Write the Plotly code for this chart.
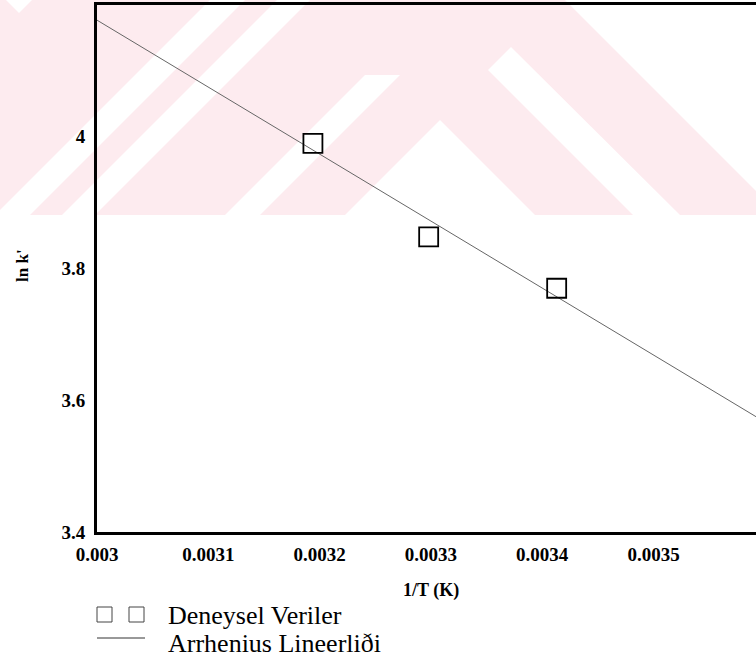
import plotly.graph_objects as go

# ---- data ----
inv_T = [0.003194, 0.003298, 0.003413]          # 1/T (K)
ln_k = [3.990, 3.848, 3.770]                      # ln k'
fit_x = [0.0030, 0.0036]                          # Arrhenius line ends
fit_y = [4.177, 3.567]
x_ticks = [0.003, 0.0031, 0.0032, 0.0033, 0.0034, 0.0035]
y_ticks = [3.4, 3.6, 3.8, 4.0]
x_tick_text = ["0.003", "0.0031", "0.0032", "0.0033", "0.0034", "0.0035"]
y_tick_text = ["3.4", "3.6", "3.8", "4"]
legend_labels = ["Deneysel Veriler", "Arrhenius Lineerliði"]

W, H = 756, 660
L, R, T, B = 97, 756, 5, 532   # plot area in pixels
SERIF = "Liberation Serif"


def px(x):
    return (x - L) / (R - L)


def py(y):
    return (B - y) / (B - T)


def poly(points, color):
    path = "M " + " L ".join(f"{px(a):.5f},{py(b):.5f}" for a, b in points) + " Z"
    return dict(type="path", xref="paper", yref="paper", path=path,
                fillcolor=color, line=dict(width=0), layer="below")


PINK = "rgb(253,235,239)"
WHITE = "white"
shapes = [
    poly([(0, 0), (756, 0), (756, 215), (0, 215)], PINK),
    poly([(6, 0), (32, 0), (19, 13)], WHITE),
    poly([(-5, 215), (30, 215), (245, 0), (210, 0)], WHITE),
    poly([(62, 215), (95, 215), (310, 0), (277, 0)], WHITE),
    poly([(225, 215), (260, 215), (400, 75), (365, 75)], WHITE),
    poly([(440, 120), (345, 215), (535, 215)], WHITE),
    poly([(488, 70), (511, 47), (680, 215), (633, 215)], WHITE),
    poly([(565, 0), (756, 0), (756, 191)], WHITE),
]

# legend (drawn manually)
shapes += [
    dict(type="rect", xref="paper", yref="paper", x0=px(97), x1=px(112), y0=py(622), y1=py(607),
         line=dict(color="#444", width=1)),
    dict(type="rect", xref="paper", yref="paper", x0=px(129), x1=px(144), y0=py(622), y1=py(607),
         line=dict(color="#444", width=1)),
    dict(type="line", xref="paper", yref="paper", x0=px(97), x1=px(145), y0=py(638), y1=py(638),
         line=dict(color="#333", width=1)),
]

fig = go.Figure()
fig.add_trace(go.Scatter(x=fit_x, y=fit_y, mode="lines",
                         line=dict(color="#666", width=1), name=legend_labels[1]))
fig.add_trace(go.Scatter(x=inv_T, y=ln_k, mode="markers",
                         marker=dict(symbol="square-open", size=19, color="black",
                                     line=dict(width=1.8)), name=legend_labels[0]))

annotations = [
    dict(x=px(22), y=py(266), xref="paper", yref="paper", text="ln k'", textangle=-90,
         xanchor="center", yanchor="middle", showarrow=False,
         font=dict(family=SERIF, size=17, color="black", weight="bold")),
    dict(x=px(431), y=py(590), xref="paper", yref="paper", text="1/T (K)",
         xanchor="center", yanchor="middle", showarrow=False,
         font=dict(family=SERIF, size=18, color="black", weight="bold")),
    dict(x=px(166), y=py(615), xref="paper", yref="paper", text=legend_labels[0],
         xanchor="left", yanchor="middle", showarrow=False,
         font=dict(family=SERIF, size=26, color="black")),
    dict(x=px(166), y=py(644), xref="paper", yref="paper", text=legend_labels[1],
         xanchor="left", yanchor="middle", showarrow=False,
         font=dict(family=SERIF, size=26, color="black")),
]

tickfont = dict(family=SERIF, size=19, color="black", weight="bold")
fig.update_layout(
    width=W, height=H,
    margin=dict(l=L, r=W - R, t=T, b=H - B, pad=0),
    paper_bgcolor="white", plot_bgcolor="rgba(0,0,0,0)",
    font=dict(family=SERIF),
    showlegend=False,
    shapes=shapes, annotations=annotations,
    xaxis=dict(range=[0.003, 0.003 + (R - L) / 1113000], tickvals=x_ticks, ticktext=x_tick_text,
               showgrid=False, zeroline=False, showline=True, linecolor="black", linewidth=3,
               mirror=True, ticks="outside", ticklen=3, tickcolor="rgba(0,0,0,0)",
               tickfont=tickfont),
    yaxis=dict(range=[3.4, 4.2], tickvals=y_ticks, ticktext=y_tick_text,
               showgrid=False, zeroline=False, showline=True, linecolor="black", linewidth=3,
               mirror=False, ticks="outside", ticklen=5, tickcolor="rgba(0,0,0,0)",
               tickfont=tickfont),
)

fig.write_html("out.html")
